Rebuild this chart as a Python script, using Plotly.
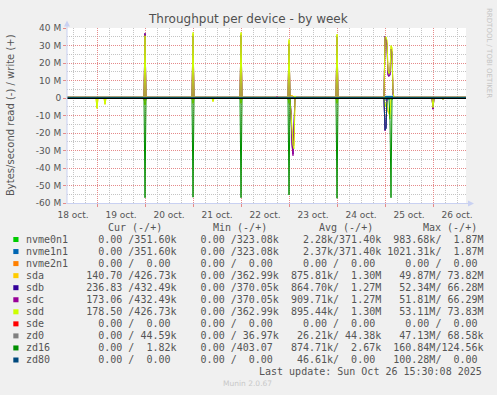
import plotly.graph_objects as go

# ---------------- data (values in MB/s; read negative, write positive) ----------------
devices = ["nvme0n1", "nvme1n1", "nvme2n1", "sda", "sdb", "sdc", "sdd", "sde", "zd0", "zd16", "zd80"]
colors = ["#00CC00", "#0066B3", "#FF8000", "#FFCC00", "#330099", "#990099",
          "#CCFF00", "#FF0000", "#808080", "#008F00", "#00487D"]

nvme0n1_read = [("18 08:00", 0.0), ("24 23:30", 0.0), ("25 00:00", -0.5), ("25 04:00", -0.5), ("25 04:30", 0.0), ("26 17:00", 0.0)]
nvme0n1_write = [("18 08:00", 0.37), ("24 23:30", 0.37), ("25 00:00", 0.9), ("25 04:00", 0.9), ("25 04:30", 0.37), ("26 17:00", 0.37)]
nvme1n1_read = [("18 08:00", 0.0), ("24 23:30", 0.0), ("25 00:00", -0.5), ("25 04:00", -0.5), ("25 04:30", 0.0), ("26 17:00", 0.0)]
nvme1n1_write = [("18 08:00", 0.37), ("24 23:30", 0.37), ("25 00:00", 0.9), ("25 04:00", 0.9), ("25 04:30", 0.37), ("26 17:00", 0.37)]
nvme2n1_read = [("18 08:00", 0.0), ("26 17:00", 0.0)]
nvme2n1_write = [("18 08:00", 0.0), ("26 17:00", 0.0)]

sda_read = [("18 08:00", 0.0), ("18 23:30", 0.0), ("19 00:00", -5.9), ("19 00:30", 0.0),
            ("19 03:30", 0.0), ("19 04:00", -3.6), ("19 04:30", 0.0),
            ("19 23:30", 0.0), ("20 00:00", -4.0), ("20 00:30", 0.0),
            ("20 23:30", 0.0), ("21 00:00", -3.0), ("21 00:30", 0.0),
            ("21 09:30", 0.0), ("21 10:00", -2.0), ("21 10:30", 0.0),
            ("21 23:30", 0.0), ("22 00:00", -3.0), ("22 00:30", 0.0),
            ("22 23:30", 0.0), ("23 00:00", -3.0), ("23 00:30", -1.0), ("23 01:00", -10.0),
            ("23 01:30", -22.0), ("23 02:00", -28.0), ("23 02:30", -27.0), ("23 03:00", 0.0),
            ("23 23:30", 0.0), ("24 00:00", -3.0), ("24 00:30", 0.0),
            ("24 23:30", 0.0), ("25 00:00", -5.0), ("25 00:30", -3.0), ("25 01:00", -2.0),
            ("25 01:30", -8.0), ("25 02:00", -9.0), ("25 02:30", -8.0), ("25 03:00", -1.0), ("25 03:30", 0.0),
            ("25 23:30", 0.0), ("26 00:00", -5.9), ("26 00:30", 0.0),
            ("26 04:30", 0.0), ("26 05:00", -0.8), ("26 05:30", 0.0), ("26 17:00", 0.0)]
sda_write = [("18 08:00", 0.43), ("19 23:30", 0.43), ("20 00:00", 35.0), ("20 00:30", 1.5), ("20 01:00", 0.43),
             ("20 23:30", 0.43), ("21 00:00", 36.5), ("21 00:30", 1.2), ("21 01:00", 0.43),
             ("21 23:30", 0.43), ("22 00:00", 36.8), ("22 00:30", 1.2), ("22 01:00", 0.43),
             ("22 23:30", 0.43), ("23 00:00", 32.5), ("23 00:30", 1.5), ("23 01:00", 1.5), ("23 02:00", 1.2), ("23 02:30", 0.43),
             ("23 23:30", 0.43), ("24 00:00", 35.8), ("24 00:30", 1.5), ("24 01:00", 0.43),
             ("24 23:30", 0.43), ("25 00:00", 34.0), ("25 00:30", 34.5), ("25 01:00", 32.0), ("25 01:30", 15.0),
             ("25 02:00", 13.5), ("25 02:30", 14.5), ("25 03:00", 29.5), ("25 03:30", 28.0), ("25 04:00", 3.5),
             ("25 04:30", 0.43), ("26 17:00", 0.43)]

sdb_read = [("18 08:00", 0.0), ("19 23:30", 0.0), ("20 00:00", -3.0), ("20 00:30", 0.0),
            ("22 23:30", 0.0), ("23 00:00", -2.0), ("23 00:30", -1.0), ("23 01:00", -8.0), ("23 01:30", -26.0),
            ("23 02:00", -32.0), ("23 02:30", -15.0), ("23 03:00", 0.0),
            ("24 23:30", 0.0), ("25 00:00", -18.6), ("25 00:30", -17.0), ("25 01:00", 0.0),
            ("25 23:30", 0.0), ("26 00:00", -6.3), ("26 00:30", 0.0), ("26 17:00", 0.0)]
sdb_write = [("18 08:00", 0.43), ("19 23:30", 0.43), ("20 00:00", 37.0), ("20 00:30", 0.43),
             ("20 23:30", 0.43), ("21 00:00", 35.5), ("21 00:30", 0.43),
             ("21 23:30", 0.43), ("22 00:00", 35.8), ("22 00:30", 0.43),
             ("22 23:30", 0.43), ("23 00:00", 31.0), ("23 00:30", 0.43),
             ("23 23:30", 0.43), ("24 00:00", 35.0), ("24 00:30", 0.43),
             ("24 23:30", 0.43), ("25 00:00", 35.2), ("25 00:30", 34.0), ("25 01:00", 30.0), ("25 01:30", 13.0),
             ("25 02:00", 12.5), ("25 02:30", 13.0), ("25 03:00", 28.0), ("25 03:30", 26.0), ("25 04:00", 2.0),
             ("25 04:30", 0.43), ("26 17:00", 0.43)]

sdc_read = [("18 08:00", 0.0), ("19 23:30", 0.0), ("20 00:00", -3.0), ("20 00:30", 0.0),
            ("22 23:30", 0.0), ("23 00:00", -2.0), ("23 00:30", -1.0), ("23 01:00", -8.0), ("23 01:30", -27.0),
            ("23 02:00", -33.0), ("23 02:30", -16.0), ("23 03:00", 0.0),
            ("24 23:30", 0.0), ("25 00:00", -18.5), ("25 00:30", -17.0), ("25 01:00", 0.0),
            ("25 23:30", 0.0), ("26 00:00", -6.5), ("26 00:30", 0.0), ("26 17:00", 0.0)]
sdc_write = [("18 08:00", 0.43), ("19 23:30", 0.43), ("20 00:00", 36.8), ("20 00:30", 0.43),
             ("20 23:30", 0.43), ("21 00:00", 35.3), ("21 00:30", 0.43),
             ("21 23:30", 0.43), ("22 00:00", 35.6), ("22 00:30", 0.43),
             ("22 17:30", 0.43), ("22 18:00", 1.1), ("22 18:30", 0.43),
             ("22 23:30", 0.43), ("23 00:00", 30.8), ("23 00:30", 0.43),
             ("23 23:30", 0.43), ("24 00:00", 34.8), ("24 00:30", 0.43),
             ("24 23:30", 0.43), ("25 00:00", 35.3), ("25 00:30", 34.0), ("25 01:00", 30.0), ("25 01:30", 12.8),
             ("25 02:00", 12.3), ("25 02:30", 13.2), ("25 03:00", 28.0), ("25 03:30", 26.0), ("25 04:00", 2.0),
             ("25 04:30", 0.43), ("26 17:00", 0.43)]

sdd_read = [("18 08:00", 0.0), ("18 23:30", 0.0), ("19 00:00", -5.9), ("19 00:30", 0.0),
            ("19 03:30", 0.0), ("19 04:00", -3.6), ("19 04:30", 0.0),
            ("19 23:30", 0.0), ("20 00:00", -4.0), ("20 00:30", 0.0),
            ("20 23:30", 0.0), ("21 00:00", -3.0), ("21 00:30", 0.0),
            ("21 09:30", 0.0), ("21 10:00", -2.0), ("21 10:30", 0.0),
            ("21 23:30", 0.0), ("22 00:00", -3.0), ("22 00:30", 0.0),
            ("22 23:30", 0.0), ("23 00:00", -3.0), ("23 00:30", -1.0), ("23 01:00", -9.0),
            ("23 01:30", -22.0), ("23 02:00", -27.0), ("23 02:30", -29.0), ("23 03:00", -0.5), ("23 03:30", 0.0),
            ("23 23:30", 0.0), ("24 00:00", -3.0), ("24 00:30", 0.0),
            ("24 23:30", 0.0), ("25 00:00", -5.0), ("25 00:30", -3.0), ("25 01:00", -2.0),
            ("25 01:30", -7.0), ("25 02:00", -8.5), ("25 02:30", -12.0), ("25 03:00", -1.0), ("25 03:30", 0.0),
            ("25 23:30", 0.0), ("26 00:00", -5.5), ("26 00:30", 0.0),
            ("26 04:30", 0.0), ("26 05:00", -0.8), ("26 05:30", 0.0), ("26 17:00", 0.0)]
sdd_write = [("18 08:00", 0.43), ("19 23:30", 0.43), ("20 00:00", 35.6), ("20 00:30", 0.43),
             ("20 23:30", 0.43), ("21 00:00", 37.5), ("21 00:30", 0.43),
             ("21 23:30", 0.43), ("22 00:00", 37.5), ("22 00:30", 0.43),
             ("22 23:30", 0.43), ("23 00:00", 33.5), ("23 00:30", 0.43), ("23 02:30", 0.43), ("23 03:00", 1.2), ("23 03:30", 0.43),
             ("23 23:30", 0.43), ("24 00:00", 36.5), ("24 00:30", 0.43),
             ("24 23:30", 0.43), ("25 00:00", 34.7), ("25 00:30", 35.0), ("25 01:00", 33.0), ("25 01:30", 16.0),
             ("25 02:00", 14.0), ("25 02:30", 15.0), ("25 03:00", 30.0), ("25 03:30", 29.0), ("25 04:00", 3.0),
             ("25 04:30", 0.43), ("26 17:00", 0.43)]

sde_read = [("18 08:00", 0.0), ("26 17:00", 0.0)]
sde_write = [("18 08:00", 0.0), ("26 17:00", 0.0)]
zd0_read = [("18 08:00", 0.0), ("26 04:30", 0.0), ("26 05:00", -0.8), ("26 05:30", 0.0), ("26 17:00", 0.0)]
zd0_write = [("18 08:00", 0.044), ("26 17:00", 0.044)]
zd16_read = [("18 08:00", 0.0), ("19 23:30", 0.0), ("20 00:00", -57.0), ("20 00:30", 0.0),
             ("20 23:30", 0.0), ("21 00:00", -56.7), ("21 00:30", 0.0),
             ("21 23:30", 0.0), ("22 00:00", -57.0), ("22 00:30", 0.0),
             ("22 23:30", 0.0), ("23 00:00", -55.4), ("23 00:30", 0.0),
             ("23 23:30", 0.0), ("24 00:00", -57.3), ("24 00:30", 0.0),
             ("25 02:00", 0.0), ("25 02:30", -13.0), ("25 03:00", -57.0), ("25 03:30", 0.0), ("26 17:00", 0.0)]
zd16_write = [("18 08:00", 0.003), ("26 17:00", 0.003)]
zd80_read = [("18 08:00", 0.0), ("24 23:30", 0.0), ("25 00:00", -18.3), ("25 00:30", -17.5), ("25 01:00", 0.0), ("26 17:00", 0.0)]
zd80_write = [("18 08:00", 0.0), ("26 17:00", 0.0)]

series_read = [nvme0n1_read, nvme1n1_read, nvme2n1_read, sda_read, sdb_read, sdc_read,
               sdd_read, sde_read, zd0_read, zd16_read, zd80_read]
series_write = [nvme0n1_write, nvme1n1_write, nvme2n1_write, sda_write, sdb_write, sdc_write,
                sdd_write, sde_write, zd0_write, zd16_write, zd80_write]

y_ticks = [-60, -50, -40, -30, -20, -10, 0, 10, 20, 30, 40]
y_ticklabels = ["-60 M", "-50 M", "-40 M", "-30 M", "-20 M", "-10 M", "0", "10 M", "20 M", "30 M", "40 M"]

cur_vals = ["  0.00 /351.60k", "  0.00 /351.60k", "  0.00 /  0.00 ", "140.70 /426.73k", "236.83 /432.49k",
            "173.06 /432.49k", "178.50 /426.73k", "  0.00 /  0.00 ", "  0.00 / 44.59k", "  0.00 /  1.82k",
            "  0.00 /  0.00 "]
min_vals = ["  0.00 /323.08k", "  0.00 /323.08k", "  0.00 /  0.00 ", "  0.00 /362.99k", "  0.00 /370.05k",
            "  0.00 /370.05k", "  0.00 /362.99k", "  0.00 /  0.00 ", "  0.00 / 36.97k", "  0.00 /403.07 ",
            "  0.00 /  0.00 "]
avg_vals = ["  2.28k/371.40k", "  2.37k/371.40k", "  0.00 /  0.00 ", "875.81k/  1.30M", "864.70k/  1.27M",
            "909.71k/  1.27M", "895.44k/  1.30M", "  0.00 /  0.00 ", " 26.21k/ 44.38k", "874.71k/  2.67k",
            " 46.61k/  0.00 "]
max_vals = ["983.68k/  1.87M", "1021.31k/  1.87M", "  0.00 /  0.00 ", " 49.87M/ 73.82M", " 52.34M/ 66.28M",
            " 51.81M/ 66.29M", " 53.11M/ 73.83M", "  0.00 /  0.00 ", " 47.13M/ 68.58k", "160.84M/124.56k",
            "100.28M/  0.00 "]
headers = ["Cur (-/+)", "Min (-/+)", "Avg (-/+)", "Max (-/+)"]

title = "Throughput per device - by week"
y_title = "Bytes/second read (-) / write (+)"
last_update = "Last update: Sun Oct 26 15:30:08 2025"
footer = "Munin 2.0.67"
watermark = "RRDTOOL / TOBI OETIKER"

# ---------------- layout geometry ----------------
W, H = 497, 395
PL, PR, PT, PB = 67, 466, 28, 203  # plot area in pixels


def px(x):
    return (x - PL) / (PR - PL)


def py(y):
    return (PB - y) / (PB - PT)


def full(t):
    return "2025-10-" + t


TXT = "#555555"
MAJ = "#E58A8A"
MIN = "#C4C4C4"
AXC = "#C9D1F2"

fig = go.Figure()
for name, col, rd, wr in zip(devices, colors, series_read, series_write):
    for s in (rd, wr):
        fig.add_trace(go.Scatter(
            x=[full(t) for t, v in s], y=[v for t, v in s], mode="lines",
            line=dict(color=col, width=1), name=name, showlegend=False, hoverinfo="skip"))

annotations = []
shapes = []

annotations.append(dict(text=title, x=px(248), y=py(19), xref="paper", yref="paper",
                        showarrow=False, xanchor="center", yanchor="middle",
                        font=dict(family="DejaVu Sans", size=12, color="#505050")))
annotations.append(dict(text=y_title, x=px(10.5), y=py(115.5), xref="paper", yref="paper",
                        showarrow=False, textangle=-90, xanchor="center", yanchor="middle",
                        font=dict(family="DejaVu Sans", size=10, color=TXT)))
annotations.append(dict(text=watermark, x=px(489), y=py(53), xref="paper", yref="paper",
                        showarrow=False, textangle=90, xanchor="center", yanchor="middle",
                        font=dict(family="DejaVu Sans", size=7, color="#C4C4C4")))

MONO = "DejaVu Sans Mono"
NB = "\u00a0"
header_x = [106.5, 212.0, 317.5, 422.3]
for hx, h in zip(header_x, headers):
    annotations.append(dict(text=h.replace(" ", NB), x=px(hx), y=py(227.3), xref="paper", yref="paper",
                            showarrow=False, xanchor="left", yanchor="middle", borderpad=0,
                            font=dict(family=MONO, size=10, color=TXT)))

ROW0, DROW = 239.4, 12.05
for i, name in enumerate(devices):
    ry = ROW0 + i * DROW
    row = name.ljust(10) + cur_vals[i] + "  " + min_vals[i] + "  " + avg_vals[i] + " " + max_vals[i].rjust(16)
    annotations.append(dict(text=row.replace(" ", NB), x=px(25.3), y=py(ry), xref="paper", yref="paper",
                            showarrow=False, xanchor="left", yanchor="middle", borderpad=0,
                            font=dict(family=MONO, size=10, color=TXT)))
    shapes.append(dict(type="rect", xref="paper", yref="paper", x0=px(13.3), x1=px(18.5),
                       y0=py(ry - 2.4), y1=py(ry + 2.6), fillcolor=colors[i], line=dict(width=0)))

annotations.append(dict(text=last_update.replace(" ", NB), x=px(482.5), y=py(ROW0 + 11 * DROW),
                        xref="paper", yref="paper", showarrow=False, xanchor="right", yanchor="middle",
                        borderpad=0, font=dict(family=MONO, size=10, color=TXT)))
annotations.append(dict(text=footer, x=px(247.5), y=py(383.8), xref="paper", yref="paper",
                        showarrow=False, xanchor="center", yanchor="middle",
                        font=dict(family="DejaVu Sans", size=7.5, color="#C8C8C8")))

# zero rule drawn over the data (as in rrdtool/munin), pixel-aligned
shapes.append(dict(type="line", xref="paper", yref="paper", x0=0, x1=1, y0=py(98.5), y1=py(98.5),
                   line=dict(color="#000000", width=1), layer="above"))
# axis lines with arrows
shapes.append(dict(type="line", xref="paper", yref="paper", x0=px(67), x1=px(67), y0=py(203.5), y1=py(24),
                   line=dict(color=AXC, width=1)))
shapes.append(dict(type="line", xref="paper", yref="paper", x0=px(66.5), x1=px(470), y0=py(203.5), y1=py(203.5),
                   line=dict(color=AXC, width=1)))
shapes.append(dict(type="path", xref="paper", yref="paper",
                   path="M {} {} L {} {} L {} {} Z".format(px(64), py(26.5), px(70), py(26.5), px(67), py(20.5)),
                   fillcolor=AXC, line=dict(width=0)))
shapes.append(dict(type="path", xref="paper", yref="paper",
                   path="M {} {} L {} {} L {} {} Z".format(px(468), py(200.5), px(468), py(206.5), px(474), py(203.5)),
                   fillcolor=AXC, line=dict(width=0)))

fig.update_layout(
    width=W, height=H,
    margin=dict(l=PL, r=W - PR, t=PT, b=H - PB, pad=0),
    paper_bgcolor="#F0F0F0", plot_bgcolor="#FFFFFF",
    showlegend=False,
    annotations=annotations, shapes=shapes,
    xaxis=dict(type="date", range=["2025-10-18 09:00", "2025-10-26 16:30"],
               tick0="2025-10-18", dtick=86400000, ticklabelmode="period", tickformat="%d oct.",
               showgrid=True, gridcolor=MAJ, griddash="1px,1px", gridwidth=1,
               minor=dict(tick0="2025-10-18", dtick=21600000, showgrid=True, gridcolor=MIN,
                          griddash="1px,1px", gridwidth=1),
               ticks="outside", ticklen=3, tickcolor=MAJ, showline=False, zeroline=False,
               tickfont=dict(family="DejaVu Sans", size=9, color=TXT), fixedrange=True),
    yaxis=dict(range=[-60, 40], tickmode="array", tickvals=y_ticks, ticktext=y_ticklabels,
               showgrid=True, gridcolor=MAJ, griddash="1px,1px", gridwidth=1,
               minor=dict(tickmode="linear", tick0=0, dtick=5, showgrid=True, gridcolor=MIN,
                          griddash="1px,1px", gridwidth=1),
               zeroline=False,
               ticks="outside", ticklen=3, tickcolor=MAJ, showline=False,
               tickfont=dict(family="DejaVu Sans", size=9, color=TXT), fixedrange=True),
)

fig.write_html("out.html")
